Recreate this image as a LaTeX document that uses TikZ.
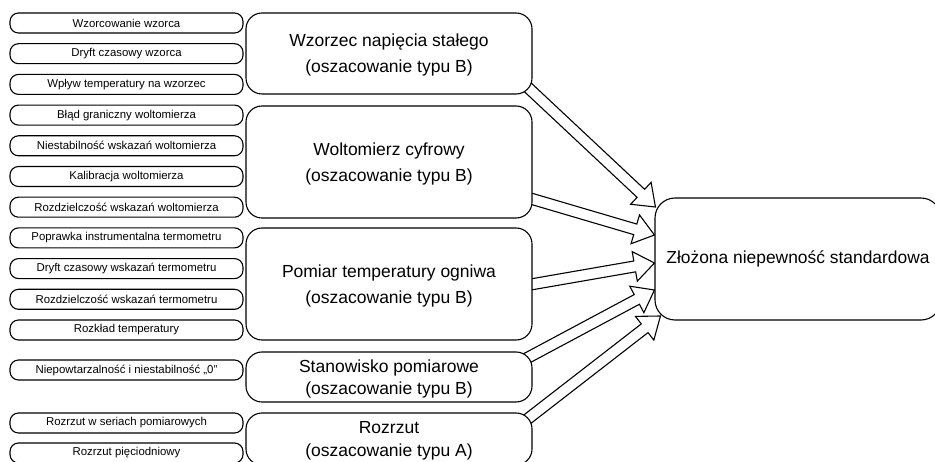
\documentclass[tikz,border=0pt]{standalone}
\usepackage{fontspec}
\setmainfont{Liberation Sans}
\usetikzlibrary{calc,positioning,backgrounds}

% hollow block arrow from #1 to #2
\newcommand{\blockarrow}[2]{%
  \coordinate (ba-s) at (#1);
  \coordinate (ba-t) at (#2);
  \coordinate (ba-n) at ($(ba-t)!20pt!(ba-s)$);
  \draw[blockline] ($(ba-s)!5.5pt!90:(ba-t)$) -- ($(ba-n)!5.5pt!90:(ba-t)$)
    -- ($(ba-n)!15pt!90:(ba-t)$) -- (ba-t) -- ($(ba-n)!15pt!-90:(ba-t)$)
    -- ($(ba-n)!5.5pt!-90:(ba-t)$) -- ($(ba-s)!5.5pt!-90:(ba-t)$);
}

\begin{document}
\begin{tikzpicture}[x=1pt, y=1pt, node distance=10.7pt,
    cause/.style={rectangle, draw, fill=white, line width=1.1pt, rounded corners=8.5pt,
      minimum width=233, minimum height=20, inner sep=0pt, outer sep=0pt,
      font=\fontsize{11.4}{13}\selectfont},
    group/.style={rectangle, draw, fill=white, line width=1.1pt, rounded corners=16pt,
      minimum width=286, inner sep=2pt, outer sep=0pt, align=center, text depth=0pt,
      font=\fontsize{17.5}{26}\selectfont},
    small group/.style={group, font=\fontsize{17.5}{22.5}\selectfont},
    result/.style={rectangle, draw, fill=white, line width=1.1pt, rounded corners=20pt,
      minimum width=286, minimum height=122, font=\fontsize{17.4}{21}\selectfont},
    blockline/.style={line width=1.1pt, line join=miter}]
    \useasboundingbox (0,0) rectangle (935,461);

    \node[cause] (WzorcowanieWzorca) at (126.5,438) {Wzorcowanie wzorca};
    \node[cause] (DryftWzorca) [below=of WzorcowanieWzorca] {Dryft czasowy wzorca};
    \node[cause] (WplywTemperatury) [below=of DryftWzorca] {Wpływ temperatury na wzorzec};
    \node[cause] (BladGraniczny) [below=of WplywTemperatury] {Błąd graniczny woltomierza};
    \node[cause] (Niestabilnosc) [below=of BladGraniczny] {Niestabilność wskazań woltomierza};
    \node[cause] (Kalibracja) [below=of Niestabilnosc] {Kalibracja woltomierza};
    \node[cause] (Rozdzielczosc) [below=of Kalibracja] {Rozdzielczość wskazań woltomierza};
    \node[cause] (Poprawka) [below=of Rozdzielczosc] {Poprawka instrumentalna termometru};
    \node[cause] (DryftTermometru) [below=of Poprawka] {Dryft czasowy wskazań termometru};
    \node[cause] (RozdzielczoscTermometru) [below=of DryftTermometru] {Rozdzielczość wskazań termometru};
    \node[cause] (RozkladTemperatury) [below=of RozdzielczoscTermometru] {Rozkład temperatury};
    \node[cause] (Niepowtarzalnosc) [below=20pt of RozkladTemperatury] {Niepowtarzalność i niestabilność „0”};
    \node[cause] (RozrzutSerii) [below=33pt of Niepowtarzalnosc] {Rozrzut w seriach pomiarowych};
    \node[cause] (RozrzutPieciodniowy) [below=10pt of RozrzutSerii] {Rozrzut pięciodniowy};

    \node[group, minimum height=81] (Wzorzec) at (389,407.5) {Wzorzec napięcia stałego\\(oszacowanie typu B)};
    \node[group, minimum height=112] (Woltomierz) at (389,299) {Woltomierz cyfrowy\\(oszacowanie typu B)};
    \node[group, minimum height=112] (Pomiar) at (389,177) {Pomiar temperatury ogniwa\\(oszacowanie typu B)};
    \node[small group, minimum height=50] (Stanowisko) at (389,84) {Stanowisko pomiarowe\\(oszacowanie typu B)};
    \node[small group, minimum height=52] (Rozrzut) at (389,22) {Rozrzut\\(oszacowanie typu A)};

    \node[result] (Niepewnosc) at (798,202) {Złożona niepewność standardowa};

    \begin{scope}[on background layer]
      \blockarrow{[shift={(-11,13)}]Wzorzec.south east}{[shift={(1,52)}]Niepewnosc.west}
      \blockarrow{[shift={(-10,-34)}]Woltomierz.east}{[shift={(0,24)}]Niepewnosc.west}
      \blockarrow{[shift={(-10,-2)}]Pomiar.east}{[shift={(0,-4)}]Niepewnosc.west}
      \blockarrow{[shift={(-16,-12)}]Stanowisko.north east}{[shift={(0,-31)}]Niepewnosc.west}
      \blockarrow{[shift={(-16,-15)}]Rozrzut.north east}{[shift={(6,-57)}]Niepewnosc.west}
    \end{scope}
  \end{tikzpicture}
\end{document}
